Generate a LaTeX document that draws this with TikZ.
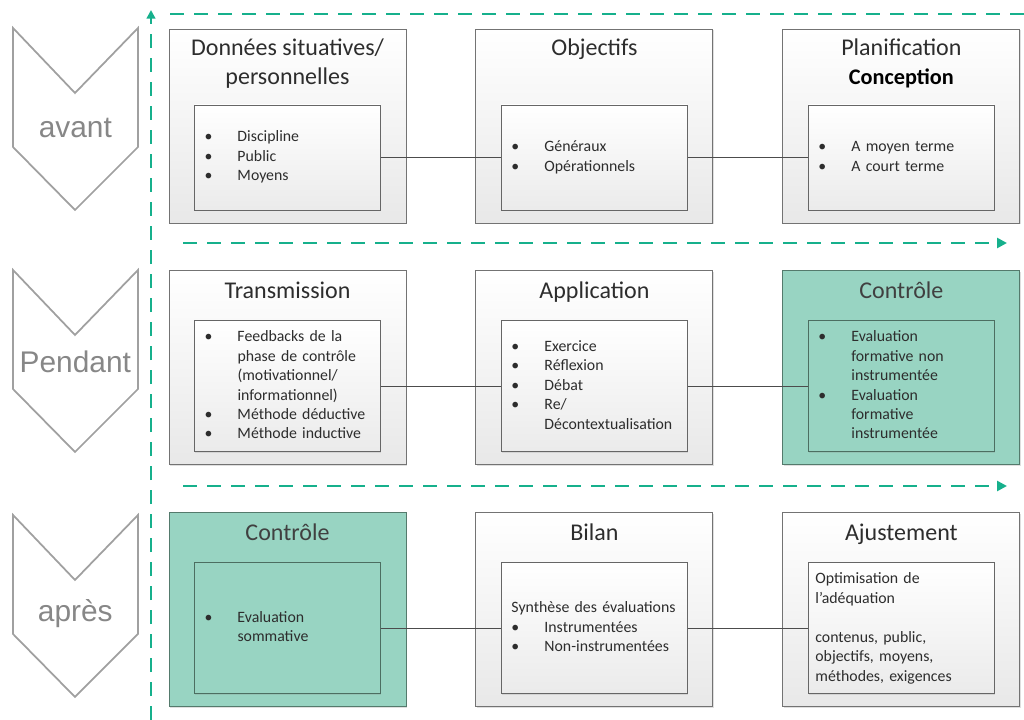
\documentclass[tikz,border=0pt]{standalone}
\usepackage{fontspec}
\setmainfont{Carlito}
\newfontfamily\phasefont{Liberation Sans}
\usetikzlibrary{positioning,arrows.meta,shadows}

\definecolor{dashgreen}{RGB}{22,176,140}
\definecolor{boxgreen}{RGB}{152,212,194}
\definecolor{edgegreen}{RGB}{84,122,108}
\definecolor{boxtext}{RGB}{45,45,45}
\definecolor{phasegray}{RGB}{160,160,160}

\newcommand{\bl}{\textbullet}
\newcommand{\itemsize}{\fontsize{13.5}{16.6}\selectfont}

\tikzset{
  outbox/.style={draw=black!55, line width=0.8pt, top color=white, bottom color=black!9,
    minimum width=7.11cm, minimum height=5.82cm,
    drop shadow={opacity=0.25, shadow xshift=0.8pt, shadow yshift=-0.8pt}},
  greenbox/.style={outbox, top color=boxgreen, bottom color=boxgreen, draw=edgegreen},
  inbox/.style={draw=black!60, line width=0.8pt, top color=white, bottom color=black!8,
    text width=4.98cm, inner xsep=0.3cm, align=left, anchor=south,
    font=\itemsize, text=boxtext,
    drop shadow={opacity=0.2, shadow xshift=0.6pt, shadow yshift=-0.6pt}},
  greenin/.style={inbox, top color=boxgreen, bottom color=boxgreen, draw=edgegreen!90!black},
  title/.style={font=\fontsize{20.5}{24.6}\selectfont, text=boxtext, align=center,
    inner sep=0pt, anchor=base},
  link/.style={draw=black!70, line width=0.6pt},
  flow/.style={draw=dashgreen, line width=2.4pt, dash pattern=on 0.42cm off 0.3cm},
  phase/.style={draw=phasegray, line width=1.5pt},
  phaselabel/.style={font=\phasefont\fontsize{25.5}{30}\selectfont, text=black!47, anchor=base}
}

\begin{document}
\begin{tikzpicture}[node distance={1.41cm and 2.07cm}]
  \useasboundingbox (0,0) rectangle (30.72,-21.6);

  % phases
  \foreach \i/\top/\low/\lab in {1/28/3.3/avant, 2/270/3.09/Pendant, 3/515/3.21/après} {
    \draw[phase] (0.39,{-0.03*\top}) -- ++(1.86,-1.95) -- ++(1.89,1.95) -- ++(0,-3.57)
      -- ++(-1.89,-1.89) -- ++(-1.86,1.89) -- cycle;
    \node[phaselabel] (ph\i) at (2.26,{-0.03*\top-\low}) {\lab};
  }

  % time line
  \coordinate (vbot) at (4.53,-21.6);
  \coordinate (vtop) at (4.53,-0.3);
  \coordinate (hstart) at (5.1,-0.42);
  \coordinate (hend) at (30.72,-0.42);
  \coordinate (mida) at (5.49,-7.29);
  \coordinate (midb) at (30.21,-7.29);
  \coordinate (lowa) at (5.49,-14.58);
  \coordinate (lowb) at (30.21,-14.58);
  \draw[flow, -{Triangle[length=0.26cm,width=0.26cm]}] (vbot) -- (vtop);
  \draw[flow] (hstart) -- (hend);
  \draw[flow, -{Triangle[length=0.3cm,width=0.3cm]}] (mida) -- (midb);
  \draw[flow, -{Triangle[length=0.3cm,width=0.3cm]}] (lowa) -- (lowb);

  % boxes
  \node[outbox] (data) at (8.625,-3.78) {};
  \node[outbox] (obj) [right=of data] {};
  \node[outbox] (plan) [right=of obj] {};
  \node[outbox] (trans) [below=of data] {};
  \node[outbox] (appl) [right=of trans] {};
  \node[greenbox] (ctrl) [right=of appl] {};
  \node[greenbox] (ctrlfin) [below=of trans] {};
  \node[outbox] (bilan) [right=of ctrlfin] {};
  \node[outbox] (ajust) [right=of bilan] {};

  \node[title] (dataT) at ([yshift=-1.68cm]data.north) {Données situatives/\\personnelles};
  \node[title] (objT) at ([yshift=-0.81cm]obj.north) {Objectifs};
  \node[title] (planT) at ([yshift=-1.68cm]plan.north)
    {Planification\\{\fontsize{19}{24.6}\selectfont\bfseries\color{black}Conception}};
  \node[title] (transT) at ([yshift=-0.84cm]trans.north) {Transmission};
  \node[title] (applT) at ([yshift=-0.84cm]appl.north) {Application};
  \node[title, text=black!75] (ctrlT) at ([yshift=-0.84cm]ctrl.north) {Contrôle};
  \node[title, text=black!75] (ctrlfinT) at ([yshift=-0.84cm]ctrlfin.north) {Contrôle};
  \node[title] (bilanT) at ([yshift=-0.84cm]bilan.north) {Bilan};
  \node[title] (ajustT) at ([yshift=-0.84cm]ajust.north) {Ajustement};

  \node[inbox, minimum height=3.15cm] (dataIn) at ([yshift=0.39cm]data.south)
    {\begin{tabular}{@{}p{0.99cm}@{}l@{}}
      \bl & Discipline\\ \bl & Public\\ \bl & Moyens
    \end{tabular}};
  \node[inbox, minimum height=3.15cm] (objIn) at ([yshift=0.39cm]obj.south)
    {\begin{tabular}{@{}p{0.99cm}@{}l@{}}
      \bl & Généraux\\ \bl & Opérationnels
    \end{tabular}};
  \node[inbox, minimum height=3.15cm] (planIn) at ([yshift=0.39cm]plan.south)
    {\begin{tabular}{@{}p{0.99cm}@{}l@{}}
      \bl & A moyen terme\\ \bl & A court terme
    \end{tabular}};
  \node[inbox, minimum height=3.93cm] (transIn) at ([yshift=0.39cm]trans.south)
    {\begin{tabular}{@{}p{0.99cm}@{}l@{}}
      \bl & Feedbacks de la\\ & phase de contrôle\\ & (motivationnel/\\ & informationnel)\\
      \bl & Méthode déductive\\ \bl & Méthode inductive
    \end{tabular}};
  \node[inbox, minimum height=3.93cm] (applIn) at ([yshift=0.39cm]appl.south)
    {\begin{tabular}{@{}p{0.99cm}@{}l@{}}
      \bl & Exercice\\ \bl & Réflexion\\ \bl & Débat\\ \bl & Re/\\ & Décontextualisation
    \end{tabular}};
  \node[greenin, minimum height=3.93cm] (ctrlIn) at ([yshift=0.39cm]ctrl.south)
    {\begin{tabular}{@{}p{0.99cm}@{}l@{}}
      \bl & Evaluation\\ & formative non\\ & instrumentée\\
      \bl & Evaluation\\ & formative\\ & instrumentée
    \end{tabular}};
  \node[greenin, minimum height=3.93cm] (ctrlfinIn) at ([yshift=0.39cm]ctrlfin.south)
    {\begin{tabular}{@{}p{0.99cm}@{}l@{}}
      \bl & Evaluation\\ & sommative
    \end{tabular}};
  \node[inbox, minimum height=3.93cm] (bilanIn) at ([yshift=0.39cm]bilan.south)
    {\begin{tabular}{@{}p{0.99cm}@{}l@{}}
      \multicolumn{2}{@{}l@{}}{Synthèse des évaluations}\\
      \bl & Instrumentées\\ \bl & Non-instrumentées
    \end{tabular}};
  \node[inbox, minimum height=3.93cm, inner xsep=0.21cm, text width=5.16cm] (ajustIn)
    at ([yshift=0.39cm]ajust.south)
    {Optimisation de\\ l’adéquation\\[16.6pt] contenus, public,\\ objectifs, moyens,\\ méthodes, exigences};

  % links
  \draw[link] (dataIn) -- (objIn);
  \draw[link] (objIn) -- (planIn);
  \draw[link] (transIn) -- (applIn);
  \draw[link] (applIn) -- (ctrlIn);
  \draw[link] (ctrlfinIn) -- (bilanIn);
  \draw[link] (bilanIn) -- (ajustIn);
\end{tikzpicture}
\end{document}
